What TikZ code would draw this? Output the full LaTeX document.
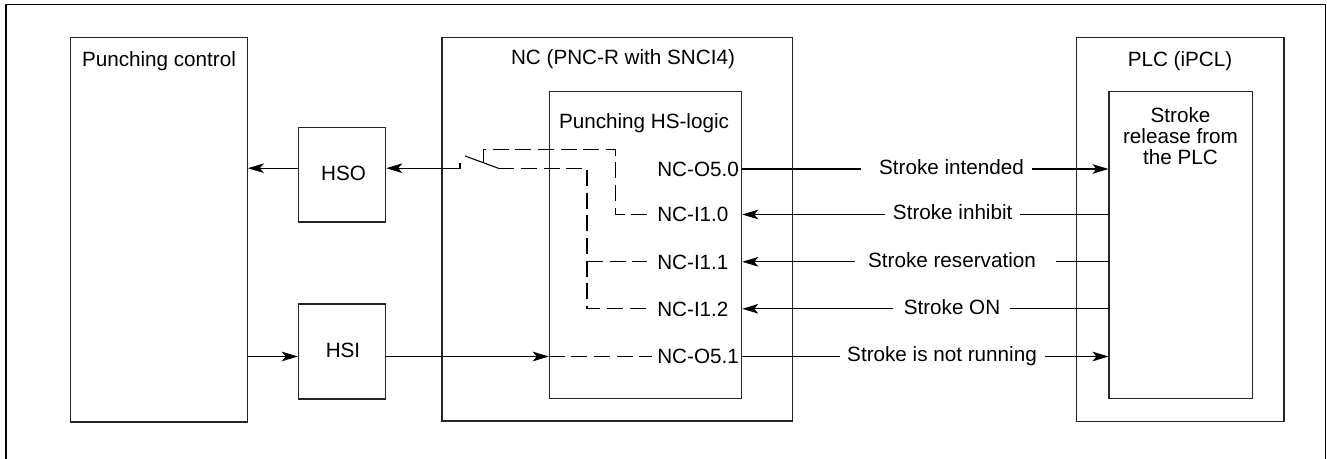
\documentclass[tikz,border=0pt]{standalone}
\usepackage{fontspec}
\setmainfont{Liberation Sans}
\usetikzlibrary{arrows.meta,fit}
\begin{document}
\begin{tikzpicture}[x=0.75pt,y=-0.75pt,
  box/.style={draw=black!85, line width=0.8pt, inner sep=0pt},
  txt/.style={font=\fontsize{15.5}{15.75}\selectfont, inner sep=0pt, text height=11.1pt, text depth=0pt},
  txtm/.style={font=\fontsize{15.5}{15.75}\selectfont, inner sep=0pt, align=center},
  sig/.style={line width=0.8pt},
  arr/.style={line width=0.8pt, -{Stealth[length=12pt,width=7.2pt,inset=3pt]}},
  dsh/.style={line width=0.8pt, dash pattern=on 12pt off 5pt},
  frame/.style={line width=1.1pt}]
\useasboundingbox (0,0) rectangle (1327,459);
% outer frame (cut at the bottom)
\coordinate (f1) at (6,470);
\coordinate (f2) at (6,4.7);
\coordinate (f3) at (1325.5,4.7);
\coordinate (f4) at (1325.5,470);
\draw[frame] (f1) -- (f2) -- (f3) -- (f4);

% boxes
\node[box, fit={(70.3,37.7) (247.3,422)}] (pc) {};
\node[box, fit={(298.3,127.3) (385.7,222)}] (hso) {};
\node[box, fit={(298.3,304) (385.7,399)}] (hsi) {};
\node[box, fit={(442,37.3) (792.7,421)}] (nc) {};
\node[box, fit={(549.3,91.7) (741.7,398.3)}] (hs) {};
\node[box, fit={(1076.7,37.3) (1284,421.5)}] (plc) {};
\node[box, fit={(1109,91.7) (1252.3,398.3)}] (rel) {};

% titles
\node[txt] (tpc) at (159,59) {Punching control};
\node[txt] (tnc) at (623,57) {NC (PNC-R with SNCI4)};
\node[txt] (tplc) at (1180,59) {PLC (iPCL)};
\node[txt] (ths) at (644,121) {Punching HS-logic};
\node[txtm, anchor=north] (trel) at (1180.5,107.5) {Stroke\\release from\\the PLC};
\node[txt] (thso) at (343.5,173) {HSO};
\node[txt] (thsi) at (343,350) {HSI};

% row coordinates
\coordinate (rH) at (0,168.2);
\coordinate (r0) at (0,169);
\coordinate (r1) at (0,214.5);
\coordinate (r2) at (0,261.8);
\coordinate (r3) at (0,308.8);
\coordinate (r4) at (0,356.5);

% HS-logic signal labels
\node[txt, anchor=west] (o50) at (657,169) {NC-O5.0};
\node[txt, anchor=west] (i10) at (657,214.5) {NC-I1.0};
\node[txt, anchor=west] (i11) at (657,261.8) {NC-I1.1};
\node[txt, anchor=west] (i12) at (657,308.8) {NC-I1.2};
\node[txt, anchor=west] (o51) at (657,356.5) {NC-O5.1};

% signal texts
\node[txt] (s0) at (951.5,167) {Stroke intended};
\node[txt] (s1) at (952.7,212.5) {Stroke inhibit};
\node[txt] (s2) at (952,259.8) {Stroke reservation};
\node[txt] (s3) at (952,306.8) {Stroke ON};
\node[txt] (s4) at (942,354.5) {Stroke is not running};

% gap ends of the signal lines
\coordinate (g0a) at (861,169);   \coordinate (g0b) at (1032,169);
\coordinate (g1a) at (885,214.5); \coordinate (g1b) at (1020,214.5);
\coordinate (g2a) at (855,261.8); \coordinate (g2b) at (1056,261.8);
\coordinate (g3a) at (893,308.8); \coordinate (g3b) at (1010,308.8);
\coordinate (g4a) at (840,356.5); \coordinate (g4b) at (1045,356.5);

% right side connectors
\draw[sig] (hs.east |- r0) -- (g0a);
\draw[arr] (g0b) -- (rel.west |- r0);
\draw[arr] (g1a) -- (hs.east |- r1);
\draw[sig] (g1b) -- (rel.west |- r1);
\draw[arr] (g2a) -- (hs.east |- r2);
\draw[sig] (g2b) -- (rel.west |- r2);
\draw[arr] (g3a) -- (hs.east |- r3);
\draw[sig] (g3b) -- (rel.west |- r3);
\draw[sig] (hs.east |- r4) -- (g4a);
\draw[arr] (g4b) -- (rel.west |- r4);

% left side connectors
\draw[arr] (hso.west |- rH) -- (pc.east |- rH);
\draw[arr] (pc.east |- r4) -- (hsi.west |- r4);
\draw[arr] (hsi.east |- r4) -- (hs.west |- r4);
\draw[dsh] (hs.west |- r4) -- ([xshift=-3.5pt]o51.west);

% switch
\coordinate (swA) at (460,163.3);
\coordinate (swB) at (465,156);
\coordinate (swC) at (498.3,168.2);
\coordinate (swK) at (483.3,162.6);
\coordinate (k1) at (615.7,149.3);
\coordinate (k2) at (587,168.2);
\draw[arr] (swA) |- (hso.east |- rH);
\draw[sig] (swB) -- (swC);
\draw[dsh] (swK) |- (k1) |- ([xshift=-7.5pt]i10.west);
\draw[dsh] (swC) -- (k2) |- ([xshift=-7.5pt]i12.west);
\draw[dsh] (k2 |- r2) -- ([xshift=-7.5pt]i11.west);
\end{tikzpicture}
\end{document}
